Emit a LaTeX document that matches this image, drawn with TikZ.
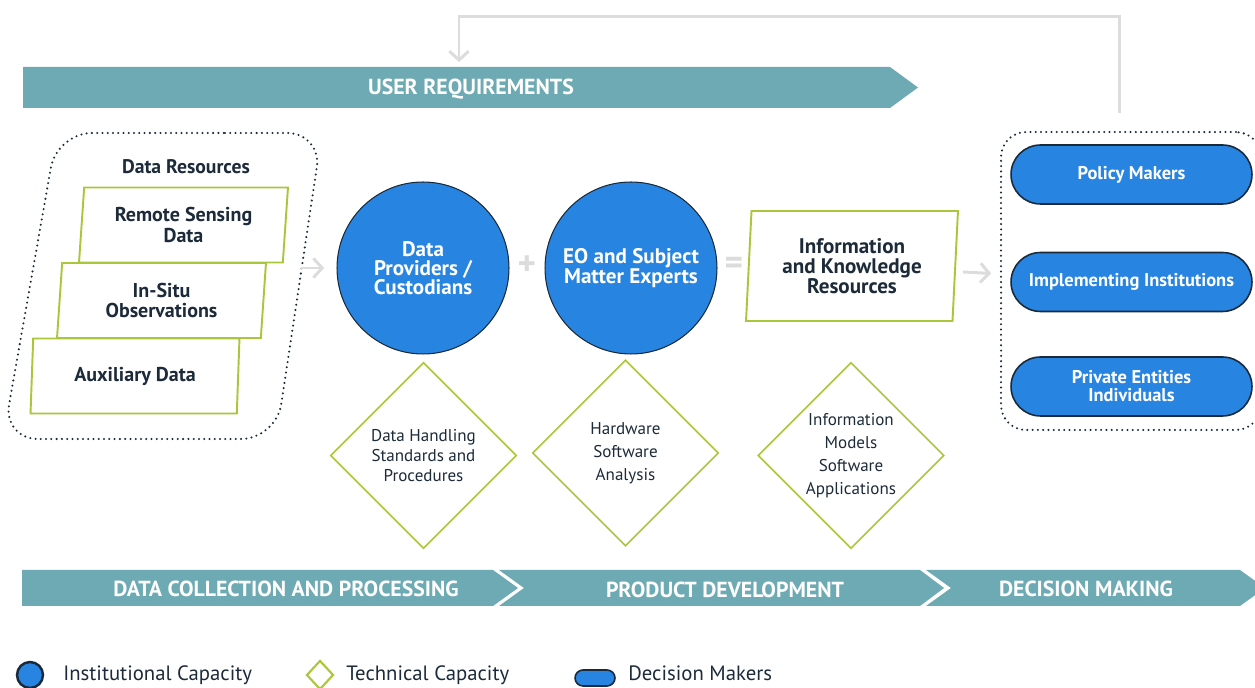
\documentclass[tikz,border=0pt]{standalone}
\usepackage{fontspec}
\setmainfont{PT Sans}
\usetikzlibrary{shapes.geometric,shapes.misc,arrows.meta,positioning}
\definecolor{bannerteal}{HTML}{6EAAB3}
\definecolor{capblue}{HTML}{2784E0}
\definecolor{darkline}{HTML}{1B2A3A}
\definecolor{techgreen}{HTML}{AAC73C}
\definecolor{flowgray}{HTML}{DCDCDC}
\definecolor{textnavy}{HTML}{1C2A39}

\begin{document}
\begin{tikzpicture}[
        x                       = 0.02cm,
        y                       = -0.02cm,
        font                    = \fontsize{10}{11.5}\selectfont,
        bannertext/.style       = {text=white, font=\fontsize{12.4}{13}\selectfont\bfseries},
        resource/.style         = {trapezium, draw=techgreen, line width=1.1pt, fill=white,
                                   trapezium stretches body=true, inner sep=0pt, align=center,
                                   text=textnavy, font=\fontsize{11.4}{11.8}\selectfont\bfseries},
        institution/.style      = {circle, draw=darkline, line width=0.6pt, fill=capblue,
                                   minimum size=3.44cm, inner sep=0pt, align=center,
                                   text=white, font=\fontsize{12}{11}\selectfont\bfseries},
        technical/.style        = {diamond, draw=techgreen, line width=0.9pt, aspect=1,
                                   minimum width=3.72cm, minimum height=3.72cm, inner sep=0pt,
                                   align=center, text=textnavy, font=\fontsize{9.7}{11.6}\selectfont},
        decider/.style          = {rounded rectangle, draw=darkline, line width=0.9pt, fill=capblue,
                                   minimum width=4.82cm, minimum height=1.18cm, inner sep=0pt,
                                   align=center, text=white, font=\fontsize{10.5}{10.2}\selectfont\bfseries},
        groupbox/.style         = {draw=darkline, line width=1.3pt, line cap=round,
                                   dash pattern=on 0pt off 3pt},
        flow/.style             = {draw=flowgray, line width=1.7pt, -{Straight Barb[length=5pt,width=11pt]}},
        sign/.style             = {text=flowgray, font=\fontsize{20}{20}\selectfont\bfseries},
        legtext/.style          = {text=textnavy, font=\fontsize{11.8}{12}\selectfont, inner sep=0pt},
      ]
        \useasboundingbox (0,0) rectangle (1255,688);
        \clip (0,0) rectangle (1255,688);

        % feedback and user requirements
        \fill[bannerteal] (23,67) -- (890,67) -- (918,87.5) -- (890,108) -- (23,108) -- cycle;
        \node[bannertext] (userreq) at (471,89) {USER REQUIREMENTS};
        \coordinate (fbstart) at (1119,113);
        \coordinate (fbend) at (459,62);
        \draw[flow] (fbstart) -- ++(0,-96) -| (fbend);

        % data resources
        \draw[groupbox, rounded corners=0.7cm]
            (190,133) -- (322,133) -- (276,439) -- (3,439) -- (57,133) -- cycle;
        \coordinate (resout) at (301,268);
        \node[text=textnavy, font=\fontsize{11.2}{12}\selectfont\bfseries] (resources) at (186,167) {Data Resources};
        \node[resource, trapezium left angle=81.7, trapezium right angle=98.3,
              minimum width=4.18cm, minimum height=1.5cm] (remote) at (183.5,225) {Remote Sensing\\Data};
        \node[resource, trapezium left angle=81.7, trapezium right angle=98.3,
              minimum width=4.18cm, minimum height=1.5cm] (insitu) at (161.5,300.5) {In-Situ\\Observations};
        \node[resource, trapezium left angle=81.7, trapezium right angle=98.3,
              minimum width=4.18cm, minimum height=1.5cm] (auxiliary) at (135,376) {Auxiliary Data};

        % capacities
        \node[institution] (providers) at (423,268) {Data\\Providers /\\Custodians};
        \node[institution] (experts) at (631,268) {EO and Subject\\Matter Experts};
        \node[sign] (plus) at (527,266) {+};
        \node[sign] (equals) at (734,266) {=};
        \node[resource, trapezium left angle=84.3, trapezium right angle=95.7,
              minimum width=4.24cm, minimum height=2.2cm,
              font=\fontsize{12}{11.3}\selectfont\bfseries] (info) at (852,266) {Information\\and Knowledge\\Resources};

        \node[technical] (handling) at (423.5,455.5) {Data Handling\\Standards and\\Procedures};
        \node[technical, font=\fontsize{9.7}{13}\selectfont] (hardware) at (625.5,453) {Hardware\\Software\\Analysis};
        \node[technical, font=\fontsize{9.7}{13}\selectfont] (models) at (851,455.5) {Information\\Models\\Software\\Applications};

        % decision makers
        \node[groupbox, rounded corners=0.5cm, minimum width=5.2cm, minimum height=5.96cm] (makers) at (1131,281) {};
        \node[decider] (policy) at (1131.5,174.5) {Policy Makers};
        \node[decider] (implementing) at (1131.5,282) {Implementing Institutions};
        \node[decider] (private) at (1131.5,386.5) {Private Entities\\Individuals};

        \draw[flow, shorten >=7pt] (resout) -- (providers);
        \draw[flow, shorten <=4pt, shorten >=5pt] (info) -- (makers);

        % stages
        \fill[bannerteal] (22,570) -- (493,570) -- (518,588) -- (493,606) -- (22,606) -- cycle;
        \fill[bannerteal] (499,570) -- (920,570) -- (944,588) -- (920,606) -- (499,606) -- (524,588) -- cycle;
        \fill[bannerteal] (926,570) -- (1240,570) -- (1265,588) -- (1240,606) -- (926,606) -- (951,588) -- cycle;
        \node[bannertext] (collection) at (286,589) {DATA COLLECTION AND PROCESSING};
        \node[bannertext] (development) at (725,590) {PRODUCT DEVELOPMENT};
        \node[bannertext] (decision) at (1086,589) {DECISION MAKING};

        % legend
        \node[institution, minimum size=0.52cm, line width=1.4pt] (legcirc) at (30,675) {};
        \node[legtext, anchor=base west] (legcirctext) at (63,681) {Institutional Capacity};
        \node[technical, minimum width=0.54cm, minimum height=0.58cm, line width=1.2pt] (legdiam) at (320,675) {};
        \node[legtext, anchor=base west] (legdiamtext) at (346,681) {Technical Capacity};
        \node[decider, minimum width=0.8cm, minimum height=0.32cm] (legpill) at (595,678) {};
        \node[legtext, anchor=base west] (legpilltext) at (628,681) {Decision Makers};
\end{tikzpicture}
\end{document}
